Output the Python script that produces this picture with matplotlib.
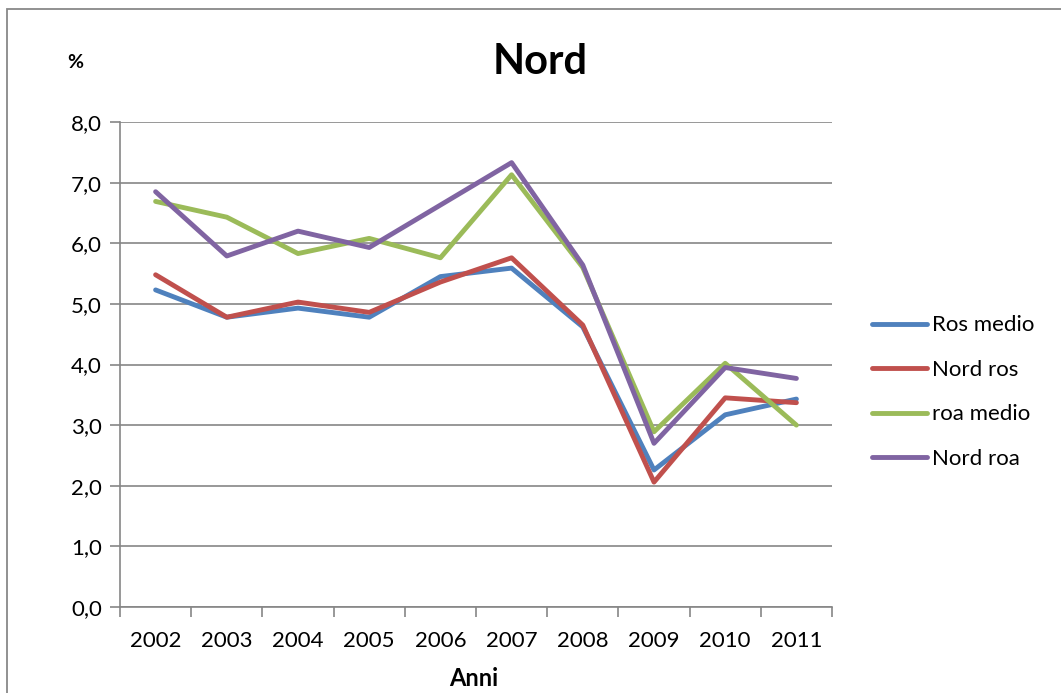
import matplotlib.pyplot as plt
from matplotlib.patches import Rectangle
from matplotlib.ticker import FuncFormatter, MultipleLocator
import numpy as np

# anni e serie
anni = ['2002', '2003', '2004', '2005', '2006', '2007', '2008', '2009', '2010', '2011']
ros_medio = [5.23, 4.78, 4.93, 4.78, 5.45, 5.59, 4.62, 2.26, 3.17, 3.43]
nord_ros = [5.48, 4.78, 5.03, 4.86, 5.36, 5.76, 4.65, 2.06, 3.45, 3.37]
roa_medio = [6.69, 6.43, 5.83, 6.08, 5.76, 7.13, 5.60, 2.89, 4.02, 3.00]
nord_roa = [6.85, 5.79, 6.20, 5.93, 6.63, 7.33, 5.64, 2.70, 3.95, 3.77]

plt.rcParams['font.family'] = ['Lato', 'DejaVu Sans']

fig = plt.figure(figsize=(10.61, 6.93), dpi=100)
ax = fig.add_axes([120/1061, 1-607/693, (832-120)/1061, (607-122)/693])

# cornice esterna
fig.patches.append(Rectangle((7/1061, -0.05), 1.2, 1.05 - 9/693, transform=fig.transFigure,
                             fill=False, edgecolor='#888888', linewidth=1.3))

x = np.arange(len(anni))
lw = 3.5
ax.plot(x, ros_medio, color='#4F81BD', lw=lw, label='Ros medio', solid_capstyle='round')
ax.plot(x, nord_ros, color='#C0504D', lw=lw, label='Nord ros', solid_capstyle='round')
ax.plot(x, roa_medio, color='#9BBB59', lw=lw, label='roa medio', solid_capstyle='round')
ax.plot(x, nord_roa, color='#8064A2', lw=lw, label='Nord roa', solid_capstyle='round')

ax.set_xlim(-0.5, len(anni) - 0.5)
ax.set_ylim(0, 8)
ax.yaxis.set_major_locator(MultipleLocator(1))
ax.yaxis.set_major_formatter(FuncFormatter(lambda v, p: f'{v:.1f}'.replace('.', ',')))
ax.grid(axis='y', color='#868686', lw=1.2)
ax.set_axisbelow(True)

ax.set_xticks(x)
ax.set_xticklabels(anni)
ax.set_xticks(np.arange(-0.5, len(anni)), minor=True)
ax.tick_params(axis='x', which='major', length=0, pad=17, labelsize=16)
ax.tick_params(axis='x', which='minor', length=7, color='#868686', width=1.2)
ax.tick_params(axis='y', length=7, color='#868686', width=1.2, labelsize=16, pad=6)

for s in ['top', 'right']:
    ax.spines[s].set_visible(False)
for s in ['left', 'bottom']:
    ax.spines[s].set_color('#868686')
    ax.spines[s].set_linewidth(1.2)

fig.text(540/1061, 1-62/693, 'Nord', ha='center', va='center', fontsize=30, fontweight='bold')
fig.text(75/1061, 1-63/693, '%', ha='center', va='center', fontsize=14, fontweight='bold')
fig.text(474/1061, 1-679/693, 'Anni', ha='center', va='center', fontsize=17, fontweight='bold')

ax.legend(loc='center left', bbox_to_anchor=(1.056, 0.443), frameon=False, fontsize=16,
          handlelength=2.5, handletextpad=0.2, labelspacing=1.1, borderpad=0, borderaxespad=0)

fig.savefig('out.png', dpi=100)
